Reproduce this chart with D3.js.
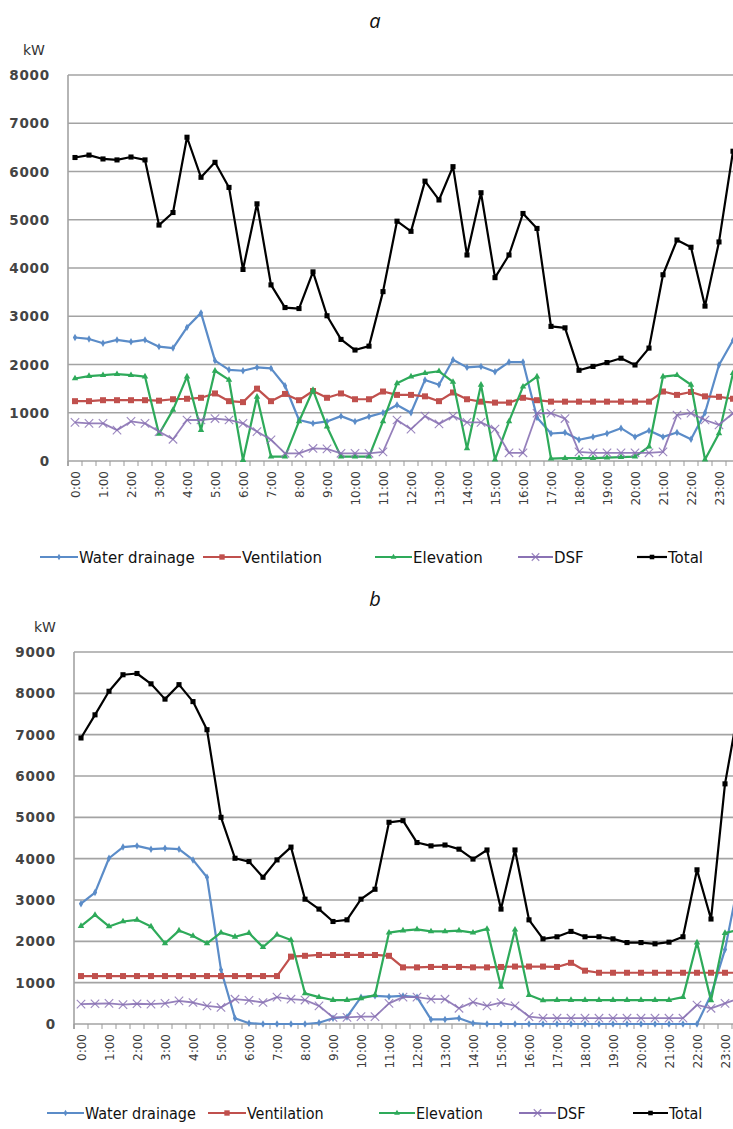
<!DOCTYPE html>
<html>
<head>
<meta charset="utf-8">
<script src="https://cdn.jsdelivr.net/npm/d3@7"></script>
<style>
  body { margin: 0; background: #fff; }
  svg { display: block; }
</style>
</head>
<body>
<script>
  // half-hour categories
  const times = ["0:00","0:30","1:00","1:30","2:00","2:30","3:00","3:30","4:00","4:30","5:00","5:30",
                 "6:00","6:30","7:00","7:30","8:00","8:30","9:00","9:30","10:00","10:30","11:00","11:30",
                 "12:00","12:30","13:00","13:30","14:00","14:30","15:00","15:30","16:00","16:30","17:00","17:30",
                 "18:00","18:30","19:00","19:30","20:00","20:30","21:00","21:30","22:00","22:30","23:00","23:30"];
  const hourLabels = ["0:00","1:00","2:00","3:00","4:00","5:00","6:00","7:00","8:00","9:00","10:00","11:00",
                      "12:00","13:00","14:00","15:00","16:00","17:00","18:00","19:00","20:00","21:00","22:00","23:00"];
  const seriesNames = ["Water drainage", "Ventilation", "Elevation", "DSF", "Total"];

  // panel a
  const aWater = [2560,2530,2440,2510,2470,2510,2370,2340,2770,3070,2080,1890,1870,1940,1920,1560,850,780,820,930,820,920,1000,1160,
                  1000,1680,1580,2100,1940,1960,1850,2050,2050,900,570,590,440,500,570,680,500,630,500,590,450,1000,1990,2500];
  const aVent  = [1240,1240,1260,1260,1260,1260,1250,1280,1290,1310,1400,1240,1220,1500,1240,1390,1260,1450,1310,1400,1280,1280,1440,1370,
                  1370,1340,1240,1420,1280,1230,1210,1210,1310,1260,1230,1230,1230,1230,1230,1230,1230,1230,1440,1370,1430,1340,1330,1290];
  const aElev  = [1710,1760,1780,1800,1780,1750,560,1060,1750,640,1870,1680,20,1330,90,90,820,1470,710,90,90,90,820,1610,
                  1750,1820,1860,1640,260,1580,30,820,1540,1750,50,60,60,60,70,80,90,300,1750,1780,1580,30,570,1820];
  const aDsf   = [800,780,780,640,820,780,610,450,850,850,880,850,780,610,440,160,160,260,250,160,160,160,190,850,
                  660,930,770,930,800,800,660,170,170,990,990,880,190,170,170,170,170,170,190,950,990,850,750,990];
  const aTotal = [6290,6340,6260,6240,6300,6240,4890,5150,6710,5880,6190,5670,3970,5330,3650,3180,3160,3920,3010,2520,2300,2380,3510,4970,
                  4760,5800,5410,6100,4270,5560,3800,4270,5130,4820,2790,2760,1880,1960,2040,2130,1990,2340,3860,4580,4430,3210,4540,6420];
  const aTicks = [0,1000,2000,3000,4000,5000,6000,7000,8000];

  // panel b
  const bWater = [2910,3180,4010,4280,4310,4230,4250,4230,3970,3550,1310,140,20,0,0,0,0,30,140,170,650,680,660,680,
                  650,110,110,140,20,0,0,0,0,0,0,0,0,0,0,0,0,0,0,0,0,700,1800,3500];
  const bVent  = [1160,1160,1160,1160,1160,1160,1160,1160,1160,1160,1160,1160,1160,1160,1160,1630,1650,1670,1670,1670,1670,1670,1650,1370,
                  1370,1380,1380,1380,1370,1370,1380,1390,1390,1390,1380,1480,1290,1240,1240,1240,1240,1240,1240,1240,1240,1240,1240,1240];
  const bElev  = [2370,2640,2360,2480,2520,2360,1950,2260,2130,1950,2210,2110,2200,1860,2160,2030,740,650,580,580,620,700,2210,2260,
                  2290,2240,2240,2260,2210,2300,900,2280,700,570,580,580,580,580,580,580,580,580,580,650,1970,570,2200,2280];
  const bDsf   = [480,490,500,470,490,480,500,560,520,440,400,600,570,520,650,600,580,440,160,160,180,180,500,650,
                  650,600,600,380,530,440,520,440,180,140,140,140,140,140,140,140,140,140,140,140,460,380,500,620];
  const bTotal = [6920,7480,8050,8450,8480,8230,7860,8210,7800,7120,5000,4010,3930,3550,3970,4280,3020,2780,2480,2520,3020,3260,4880,4920,
                  4390,4310,4330,4230,3990,4210,2780,4210,2520,2060,2110,2240,2110,2110,2060,1970,1970,1940,1980,2110,3730,2540,5810,7700];
  const bTicks = [0,1000,2000,3000,4000,5000,6000,7000,8000,9000];

  const W = 733, H = 1129;
  const colors = ["#5b8cc8", "#c0504d", "#2eaa5a", "#8a72b4", "#000000"];
  const markerTypes = [d3.symbolDiamond, d3.symbolSquare, d3.symbolTriangle, d3.symbolX, d3.symbolSquare];
  const markerSizes = [16, 36, 18, 48, 26];

  const svg = d3.select("body").append("svg")
      .attr("width", W).attr("height", H)
      .style("font-family", "'DejaVu Sans', Verdana, sans-serif");

  function marker(sel, k, scale) {
    const sym = d3.symbol().type(markerTypes[k]).size(markerSizes[k] * (scale || 1));
    sel.attr("d", sym);
    if (k === 3) {
      sel.attr("fill", "none").attr("stroke", colors[k]).attr("stroke-width", 1.1).attr("opacity", 0.85);
    } else {
      sel.attr("fill", colors[k]).attr("stroke", "none");
    }
  }

  function panel(o) {
    const g = svg.append("g");
    const x = d3.scaleBand().domain(times).range([o.left, o.left + times.length * 14]).padding(0);
    const cx = (d) => x(d) + x.bandwidth() / 2;
    const y = d3.scaleLinear().domain([0, d3.max(o.ticks)]).range([o.bottom, o.top]);

    // title and unit
    g.append("text").attr("x", 375).attr("y", o.titleY)
      .attr("text-anchor", "middle").style("font-family", "'Open Sans', sans-serif")
      .style("font-style", "italic").style("font-size", "20px").attr("fill", "#111").text(o.title);
    g.append("text").attr("x", o.unitX).attr("y", o.top - 20)
      .style("font-size", "14px").attr("fill", "#333").text("kW");

    // gridlines
    g.selectAll(".grid").data(o.ticks.filter(t => t > 0)).join("line")
      .attr("x1", o.left).attr("x2", W)
      .attr("y1", d => y(d)).attr("y2", d => y(d))
      .attr("stroke", "#a3a3a3").attr("stroke-width", 1.6);

    // y axis
    g.append("line").attr("x1", o.left).attr("x2", o.left).attr("y1", o.top).attr("y2", o.bottom + 5)
      .attr("stroke", "#a3a3a3").attr("stroke-width", 1.6);
    g.selectAll(".ylab").data(o.ticks).join("text")
      .attr("x", o.left - 18).attr("y", d => y(d) + 5)
      .attr("text-anchor", "end").style("font-size", "13.5px").style("letter-spacing", "0.8px")
      .style("font-weight", "600").attr("fill", "#444").text(d => d);

    // x axis
    g.append("line").attr("x1", o.left).attr("x2", W).attr("y1", o.bottom).attr("y2", o.bottom)
      .attr("stroke", "#a3a3a3").attr("stroke-width", 1.6);
    g.selectAll(".xtick").data(times).join("line")
      .attr("x1", d => x(d)).attr("x2", d => x(d))
      .attr("y1", o.bottom).attr("y2", o.bottom + 5)
      .attr("stroke", "#999").attr("stroke-width", 1);
    g.selectAll(".xlab").data(hourLabels).join("text")
      .attr("transform", d => `translate(${cx(d) + 4.5},${o.bottom + 10}) rotate(-90)`)
      .attr("text-anchor", "end").style("font-size", "12px").attr("fill", "#3a3a3a").text(d => d);

    // series
    const line = d3.line().x((d, i) => cx(times[i])).y(d => y(d));
    o.series.forEach((vals, k) => {
      g.append("path").datum(vals).attr("d", line)
        .attr("fill", "none").attr("stroke", colors[k])
        .attr("stroke-width", k === 3 ? 1.8 : 2.2).attr("stroke-linejoin", "round")
        .attr("opacity", k === 3 ? 0.9 : 1);
      g.selectAll(".m" + k).data(vals).join("path")
        .attr("transform", (d, i) => `translate(${cx(times[i])},${y(d)})`)
        .call(marker, k);
    });

    // legend
    const lg = g.append("g").attr("transform", `translate(0,${o.legendY})`);
    seriesNames.forEach((name, k) => {
      const p = o.legend[k];
      lg.append("line").attr("x1", p[0]).attr("x2", p[1]).attr("y1", 0).attr("y2", 0)
        .attr("stroke", colors[k]).attr("stroke-width", 2.2);
      lg.append("path").attr("transform", `translate(${(p[0] + p[1]) / 2},0)`).call(marker, k, 0.8);
      lg.append("text").attr("x", p[1] + 1).attr("y", 6)
        .style("font-size", o.legendFont).style("font-family", o.legendFamily)
        .style("font-stretch", o.legendStretch)
        .attr("fill", "#111").text(name);
    });
  }

  panel({
    title: "a", titleY: 28, unitX: 23,
    left: 68, top: 75, bottom: 461, ticks: aTicks,
    series: [aWater, aVent, aElev, aDsf, aTotal],
    legendY: 557, legendFont: "15px", legendFamily: "'DejaVu Sans', sans-serif", legendStretch: "normal",
    legend: [[40, 78], [203, 241], [375, 412], [518, 553], [637, 667]]
  });

  panel({
    title: "b", titleY: 606, unitX: 34,
    left: 74, top: 652, bottom: 1024, ticks: bTicks,
    series: [bWater, bVent, bElev, bDsf, bTotal],
    legendY: 1113, legendFont: "16px", legendFamily: "'DejaVu Sans Condensed', 'DejaVu Sans', sans-serif", legendStretch: "condensed",
    legend: [[47, 84], [208, 246], [379, 415], [519, 556], [633, 668]]
  });
</script>
</body>
</html>
